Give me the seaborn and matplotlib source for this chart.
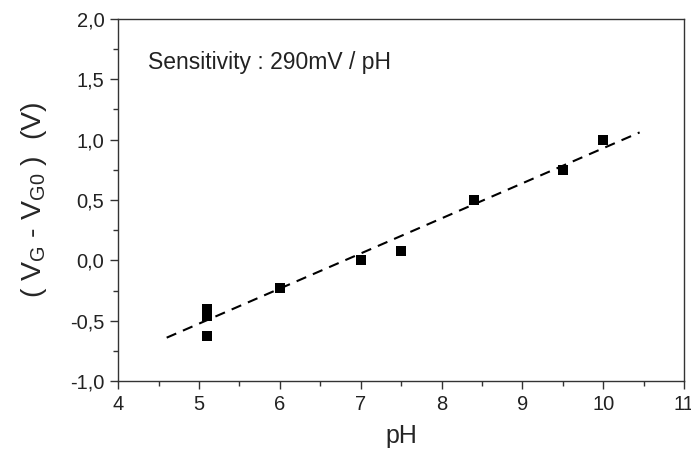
import numpy as np
import pandas as pd
import seaborn as sns
import matplotlib.pyplot as plt
from matplotlib.ticker import MultipleLocator, FuncFormatter

# measured points
ph = [5.1, 5.1, 5.1, 6.0, 7.0, 7.5, 8.4, 9.5, 10.0]
dv = [-0.40, -0.46, -0.63, -0.23, 0.0, 0.08, 0.50, 0.75, 1.00]

# linear fit (290 mV / pH)
fit_ph = [4.6, 10.45]
fit_dv = [-0.64, 1.06]

df = pd.DataFrame({"pH": ph, "dV": dv})
fit = pd.DataFrame({"pH": fit_ph, "dV": fit_dv})

sns.set_style("ticks")
plt.rcParams["font.family"] = ["Liberation Sans", "DejaVu Sans"]
plt.rcParams["mathtext.fontset"] = "custom"
plt.rcParams["mathtext.rm"] = "Liberation Sans"

fig = plt.figure(figsize=(6.91, 4.5), dpi=100)
ax = fig.add_axes([0.171, 0.153, 0.819, 0.805])

sns.lineplot(x="pH", y="dV", data=fit, ax=ax, color="black", linewidth=1.5,
             dashes=False, linestyle=(0, (5, 3.5)))
sns.scatterplot(x="pH", y="dV", data=df, ax=ax, marker="s", s=48,
                color="black", linewidth=0, zorder=3)

ax.set_xlim(4, 11)
ax.set_ylim(-1.0, 2.0)
ax.xaxis.set_major_locator(MultipleLocator(1))
ax.xaxis.set_minor_locator(MultipleLocator(0.5))
ax.yaxis.set_major_locator(MultipleLocator(0.5))
ax.yaxis.set_minor_locator(MultipleLocator(0.25))
ax.yaxis.set_major_formatter(FuncFormatter(lambda v, p: f"{v:.1f}".replace(".", ",")))

for s in ax.spines.values():
    s.set_color("#333333")
    s.set_linewidth(1.0)
ax.tick_params(which="major", direction="out", length=6, width=1, colors="#333333",
               labelsize=14.5, labelcolor="#222222", pad=4)
ax.tick_params(which="minor", direction="out", length=3.5, width=1, colors="#333333")

ax.set_xlabel("pH", fontsize=18, labelpad=7)
ax.set_ylabel(r"( $\mathregular{V_G}$ - $\mathregular{V_{G0}}$ )  (V)", fontsize=20.5, labelpad=15)

ax.text(4.37, 1.64, "Sensitivity : 290mV / pH", fontsize=16.5, va="center", ha="left",
        color="#222222")

plt.savefig("out.png", dpi=100)
